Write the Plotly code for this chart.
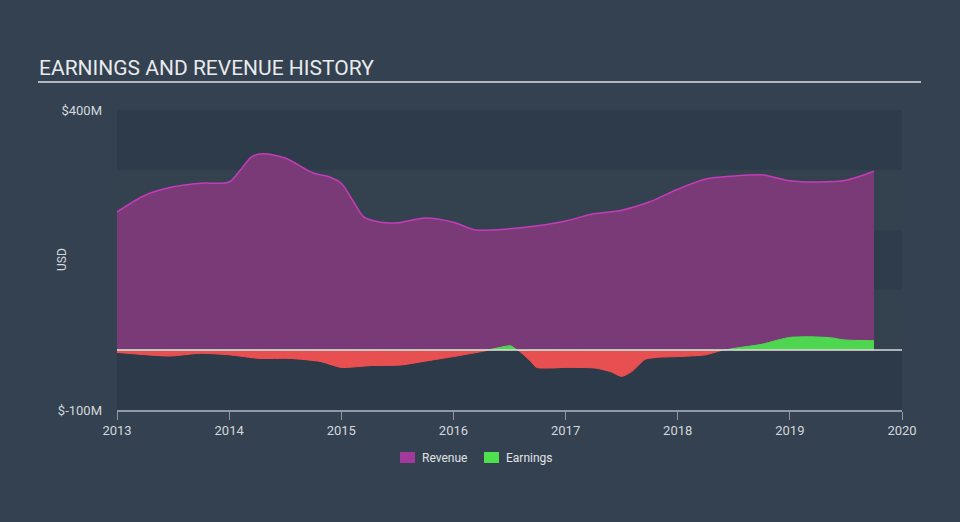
import plotly.graph_objects as go
import numpy as np

# Data (values in $M)
rev_x = [2013.0, 2013.25, 2013.5, 2013.75, 2014.0, 2014.1, 2014.2, 2014.3, 2014.5, 2014.75,
         2014.9, 2015.0, 2015.1, 2015.2, 2015.35, 2015.5, 2015.75, 2016.0, 2016.2, 2016.5,
         2016.75, 2017.0, 2017.25, 2017.5, 2017.75, 2018.0, 2018.25, 2018.5, 2018.75, 2019.0,
         2019.25, 2019.5, 2019.75]
revenue = [230, 258, 272, 278, 280, 300, 322, 327, 320, 295,
           288, 278, 250, 222, 213, 212, 220, 213, 200, 202,
           207, 215, 227, 233, 247, 268, 285, 290, 292, 282,
           280, 283, 298]

earn_x = [2013.0, 2013.47, 2013.74, 2014.0, 2014.27, 2014.54, 2014.81, 2015.0, 2015.26, 2015.53,
          2015.8, 2016.0, 2016.24, 2016.33, 2016.42, 2016.51, 2016.57, 2016.69, 2016.74, 2016.87,
          2017.0, 2017.26, 2017.4, 2017.5, 2017.59, 2017.71, 2017.84, 2018.0, 2018.25, 2018.41,
          2018.55, 2018.75, 2018.87, 2019.0, 2019.18, 2019.36, 2019.49, 2019.75]
earnings = [-4, -10, -5.5, -8, -14, -14, -19, -29, -26, -25,
            -17, -11, -3, 1, 4.5, 7, 0, -19, -29, -30,
            -29, -30, -36, -44, -36, -15.5, -12, -11, -8, 0,
            4, 9.5, 15.5, 21, 22, 20.5, 16.7, 15.5]

year_ticks = [2013, 2014, 2015, 2016, 2017, 2018, 2019, 2020]
series_names = ["Revenue", "Earnings"]
series_colors = ["#a23a9e", "#4fe04f"]

earn = np.array(earnings, dtype=float)
pos = np.maximum(earn, 0)
neg = np.minimum(earn, 0)

L, R, T, B = 117, 902, 110, 410
PW, PH = R - L, B - T


def px(x):
    return (x - L) / PW


def py(y):
    return (B - y) / PH


fig = go.Figure()

# background bands
bands = [(300, 400, "#2e3b4a"), (200, 300, "#34424f"), (100, 200, "#2f3c4b"),
         (0, 100, "#34424f"), (-100, 0, "#2d3a49")]
for y0, y1, c in bands:
    fig.add_shape(type="rect", xref="x", yref="y", x0=2013, x1=2020, y0=y0, y1=y1,
                  fillcolor=c, line_width=0, layer="below")

fig.add_trace(go.Scatter(x=rev_x, y=revenue, mode="lines", fill="tozeroy", name=series_names[0],
                         line=dict(color="#c43cb8", width=1.5, shape="spline", smoothing=0.8),
                         fillcolor="rgba(125,58,122,0.97)", showlegend=False, hoverinfo="skip"))
fig.add_trace(go.Scatter(x=earn_x, y=neg, mode="lines", fill="tozeroy", name=series_names[1],
                         line=dict(color="#ef5050", width=1, shape="spline", smoothing=0.6),
                         fillcolor="#e84f51", showlegend=False, hoverinfo="skip"))
fig.add_trace(go.Scatter(x=earn_x, y=pos, mode="lines", fill="tozeroy", name=series_names[1],
                         line=dict(color="#52d952", width=1, shape="spline", smoothing=0.6),
                         fillcolor="#4fd650", showlegend=False, hoverinfo="skip"))

# zero line
fig.add_shape(type="line", xref="x", yref="y", x0=2013, x1=2020, y0=0, y1=0,
              line=dict(color="#d9dde0", width=1.5))

# custom legend (swatch + label)
leg_left = [400, 484]
for name, col, x0 in zip(series_names, series_colors, leg_left):
    fig.add_shape(type="rect", xref="paper", yref="paper",
                  x0=px(x0), x1=px(x0 + 15), y0=py(463), y1=py(452),
                  fillcolor=col, line_width=0)
    fig.add_annotation(text=name, xref="paper", yref="paper", x=px(x0 + 20), y=py(458),
                       xanchor="left", yanchor="middle", showarrow=False,
                       font=dict(family="Roboto", size=12, color="#e0e3e6"))

# title + underline
fig.add_annotation(text="EARNINGS AND REVENUE HISTORY", xref="paper", yref="paper",
                   x=px(37), y=py(68), xanchor="left", yanchor="middle",
                   showarrow=False, font=dict(family="Roboto", size=21, color="#e8eaec"))
fig.add_shape(type="line", xref="paper", yref="paper",
              x0=px(38), x1=px(921), y0=py(82), y1=py(82),
              line=dict(color="#b4b9bf", width=2))

# y-axis title
fig.add_annotation(text="USD", xref="paper", yref="paper",
                   x=px(62), y=py(260), textangle=-90,
                   xanchor="center", yanchor="middle", showarrow=False,
                   font=dict(family="Roboto", size=12, color="#d4d8dc"))

fig.update_layout(
    width=960, height=522,
    margin=dict(l=L, r=960 - R, t=T, b=522 - B),
    paper_bgcolor="#334150",
    plot_bgcolor="#334150",
    font=dict(family="Roboto", color="#d4d8dc"),
    showlegend=False,
    xaxis=dict(range=[2013, 2020], tickvals=year_ticks, ticktext=[str(t) for t in year_ticks],
               showgrid=False, zeroline=False, showline=True, linecolor="#8f9aa6", linewidth=1.5,
               ticks="outside", ticklen=8, tickcolor="#8f9aa6", tickfont=dict(size=13, color="#d4d8dc")),
    yaxis=dict(range=[-100, 400], tickvals=[-100, 400], ticktext=["$-100M", "$400M"],
               showgrid=False, zeroline=False, showline=False, ticklabelstandoff=14,
               tickfont=dict(size=13, color="#d4d8dc")),
)

fig.write_html("out.html")
